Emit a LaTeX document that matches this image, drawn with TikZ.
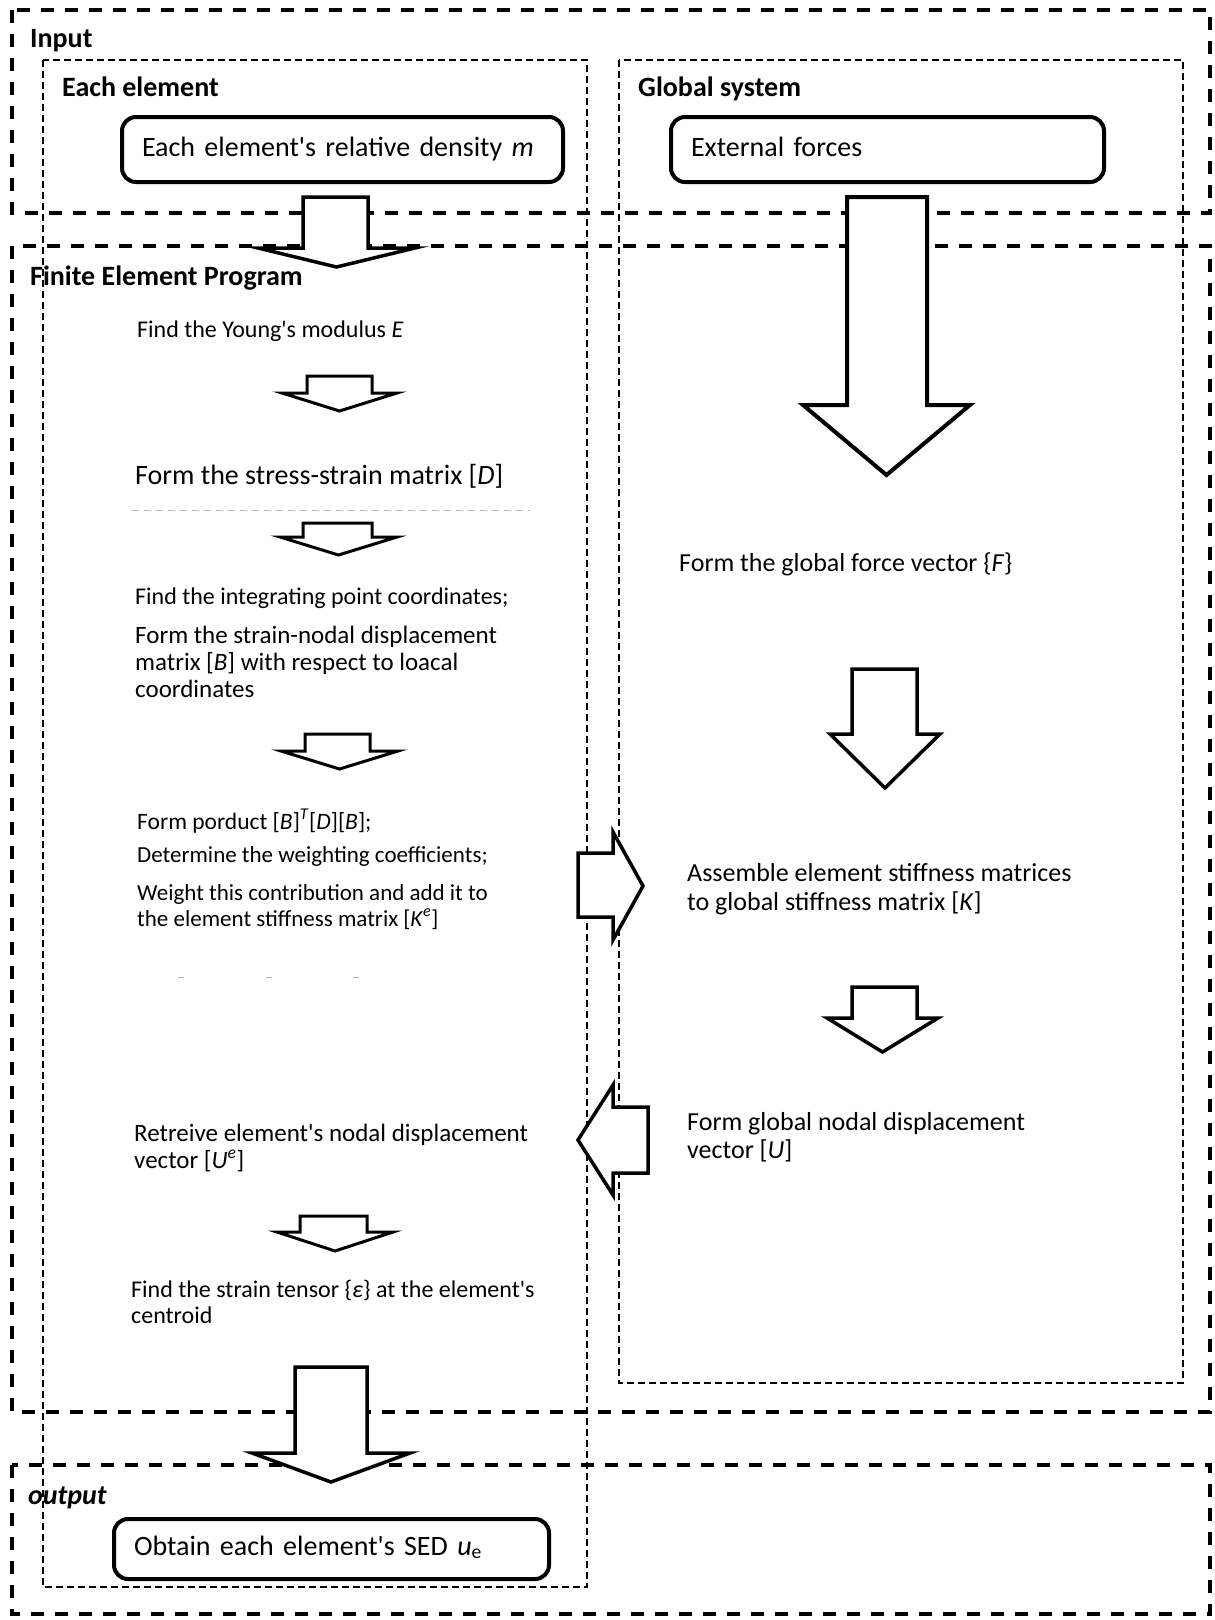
\documentclass[tikz,border=0pt]{standalone}
\usepackage{fontspec}
\setmainfont{Carlito}[Ligatures=TeXOff]

% down-pointing block arrow: [style]{shaft left}{shaft right}{top}{wing left}{wing right}{wing y}{tip y}
\newcommand\dnblock[8][]{%
  \draw[blockarrow,#1] (#2,#4) -- (#3,#4) -- (#3,#7) -- (#6,#7)
    -- ({(#5+#6)/2},#8) -- (#5,#7) -- (#2,#7) -- cycle;}

\begin{document}
\begin{tikzpicture}[x=1pt,y=-1pt,
  outerbox/.style={draw, line width=4pt, dash pattern=on 13pt off 11pt},
  innerbox/.style={draw, line width=2pt, dash pattern=on 7pt off 4pt},
  roundbox/.style={draw, fill=white, line width=4pt, rounded corners=14pt,
    anchor=north west, inner xsep=20pt, inner ysep=0pt, align=left,
    text height=19pt, text depth=6pt, font=\fontsize{28}{32}\selectfont},
  title/.style={anchor=base west, inner sep=0pt, font=\fontsize{28}{32}\selectfont\bfseries},
  steptext/.style={anchor=base west, inner sep=0pt, align=left},
  blockarrow/.style={draw, fill=white, line width=3.5pt, line join=miter},
  smallarrow/.style={line width=3pt},
  faint/.style={gray!55, line width=1pt}]

\fill[white] (0,0) rectangle (1215,1620);
\useasboundingbox (0,0) rectangle (1215,1620);

% column frames
\draw[innerbox] (43,60) rectangle (587,1587);
\draw[innerbox] (619,60) rectangle (1183,1383);

% stage frames
\draw[outerbox] (12,10) rectangle (1210,213);
\draw[outerbox] (12,246) rectangle (1210,1412);
\draw[outerbox] (12,1465) rectangle (1210,1614);

% titles
\node[title] (tinput) at (30,47) {Input};
\node[title] (telem) at (62,96) {Each element};
\node[title] (tglob) at (638,96) {Global system};
\node[title] (tfep) at (30,285) {Finite Element Program};
\node[title, font=\fontsize{28}{32}\selectfont\bfseries\itshape] (tout) at (28,1504) {output};

% input / output boxes
\node[roundbox, text width=401pt, minimum height=65pt] (dens) at (120,115)
  {Each element's relative density \textit{m}};
\node[roundbox, text width=393pt, minimum height=65pt] (ext) at (669,115)
  {External forces};
\node[roundbox, text width=395pt, minimum height=60pt, text height=18pt] (sed) at (112,1517)
  {Obtain each element's SED \textit{u}\textsubscript{e}};

% element-level steps (multi-line texts are placed by their last baseline)
\node[steptext, font=\fontsize{24}{27}\selectfont] (young) at (137,337)
  {Find the Young's modulus \textit{E}};
\node[steptext, font=\fontsize{28}{30}\selectfont] (stress) at (135,484)
  {Form the stress-strain matrix [\textit{D}]};
\node[steptext, font=\fontsize{24}{27}\selectfont] (integ) at (135,604)
  {Find the integrating point coordinates;};
\node[steptext, font=\fontsize{25}{27}\selectfont] (bmat) at (135,697)
  {Form the strain-nodal displacement\\matrix [\textit{B}] with respect to loacal\\coordinates};
\node[steptext, font=\fontsize{23.5}{26}\selectfont] (prod) at (137,829)
  {Form porduct [\textit{B}]\textsuperscript{\textit{T}}[\textit{D}][\textit{B}];};
\node[steptext, font=\fontsize{23}{26}\selectfont] (wcoef) at (137,862)
  {Determine the weighting coefficients;};
\node[steptext, font=\fontsize{23}{25.5}\selectfont] (wadd) at (137,926)
  {Weight this contribution and add it to\\the element stiffness matrix [\textit{K}\textsuperscript{\textit{e}}]};
\node[steptext, font=\fontsize{25}{27}\selectfont] (retr) at (134,1168)
  {Retreive element's nodal displacement\\vector [\textit{U}\textsuperscript{\textit{e}}]};
\node[steptext, font=\fontsize{24}{26}\selectfont] (strain) at (131,1323)
  {Find the strain tensor \{\textit{ε}\} at the element's\\centroid};

% global-level steps
\node[steptext, font=\fontsize{26}{29}\selectfont] (force) at (679,571)
  {Form the global force vector \{\textit{F}\}};
\node[steptext, font=\fontsize{26}{29}\selectfont] (assem) at (687,910)
  {Assemble element stiffness matrices\\to global stiffness matrix [\textit{K}]};
\node[steptext, font=\fontsize{26}{28}\selectfont] (gdisp) at (687,1158)
  {Form global nodal displacement\\vector [\textit{U}]};

% faint marks
\draw[faint, dash pattern=on 7pt off 5pt] (132,510) -- (530,510);
\draw[faint] (178,977) -- (184,977) (266,977) -- (272,977) (353,977) -- (359,977);

% block arrows between stages
\dnblock{303}{368}{197}{258}{415}{248}{267}
\dnblock[line width=4pt]{847}{927}{197}{803}{970}{405}{475}
\dnblock{295}{367}{1367}{252}{410}{1453}{1482}

% block arrows within the element column
\dnblock[smallarrow]{307}{372}{376}{282}{397}{393}{411}
\dnblock[smallarrow]{303}{372}{523}{280}{397}{537}{555}
\dnblock[smallarrow]{305}{370}{734}{281}{398}{751}{769}
\dnblock[smallarrow]{300}{367}{1216}{277}{393}{1232}{1251}

% block arrows within the global column
\dnblock{852}{917}{669}{830}{940}{734}{788}
\dnblock{852}{917}{987}{827}{938}{1018}{1052}

% exchange between the columns
\draw[blockarrow] (578,853) -- (613,853) -- (613,832) -- (643,886)
  -- (613,940) -- (613,917) -- (578,917) -- cycle;
\draw[blockarrow] (648,1107) -- (613,1107) -- (613,1085) -- (578,1140)
  -- (613,1195) -- (613,1173) -- (648,1173) -- cycle;

\end{tikzpicture}
\end{document}
